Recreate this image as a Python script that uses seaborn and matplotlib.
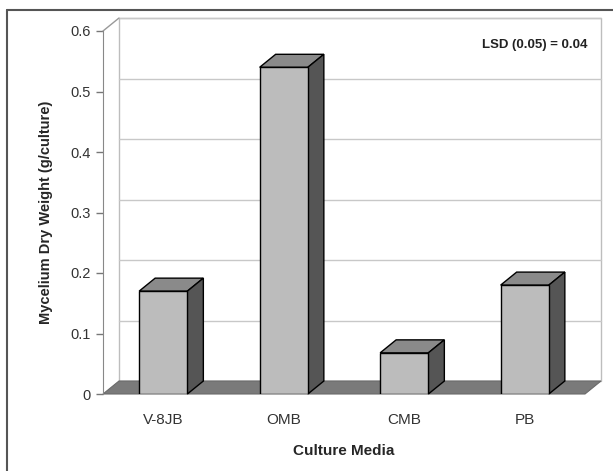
import matplotlib.pyplot as plt
import matplotlib.transforms as mtransforms
from matplotlib.patches import Polygon, Rectangle
from matplotlib.lines import Line2D
import seaborn as sns
import pandas as pd

media = ['V-8JB', 'OMB', 'CMB', 'PB']
dry_weight = [0.17, 0.54, 0.068, 0.18]
y_ticks = [0, 0.1, 0.2, 0.3, 0.4, 0.5, 0.6]
y_tick_labels = ['0', '0.1', '0.2', '0.3', '0.4', '0.5', '0.6']
lsd_text = 'LSD (0.05) = 0.04'

sns.set_style('white')
plt.rcParams['font.family'] = ['Liberation Sans', 'DejaVu Sans']

df = pd.DataFrame({'Media': media, 'Weight': dry_weight})

fig = plt.figure(figsize=(6.13, 4.71), dpi=100)
ax = fig.add_axes([103 / 613, 1 - 394 / 471, (585 - 103) / 613, (394 - 31) / 471])

# depth offset for the fake 3D look (16 px right, 13 px up)
depth = mtransforms.ScaledTranslation(0.16, 0.13, fig.dpi_scale_trans)
back_axes = ax.transAxes + depth
back_data = ax.transData + depth
pix = mtransforms.IdentityTransform()

ax.set_xlim(-0.5, 3.5)
ax.set_ylim(0, 0.6)

# back wall + gridlines
ax.add_patch(Rectangle((0, 0), 1, 1, transform=back_axes, facecolor='white',
                       edgecolor='#bdbdbd', lw=1, zorder=0, clip_on=False))
for t in y_ticks[1:]:
    ax.add_line(Line2D([-0.5, 3.5], [t, t], transform=back_data, color='#c8c8c8',
                       lw=1, zorder=0.5, clip_on=False))

# left side wall top edge
p0 = ax.transAxes.transform((0, 1))
p1 = back_axes.transform((0, 1))
ax.add_line(Line2D([p0[0], p1[0]], [p0[1], p1[1]], transform=pix, color='#999999',
                   lw=1, clip_on=False))

# floor
f0 = ax.transData.transform([(-0.5, 0), (3.5, 0)])
f1 = back_data.transform([(3.5, 0), (-0.5, 0)])
ax.add_patch(Polygon(list(f0) + list(f1), closed=True, transform=pix, facecolor='#7a7a7a',
                     edgecolor='#6a6a6a', lw=0.8, zorder=1, clip_on=False))

sns.barplot(data=df, x='Media', y='Weight', ax=ax, color='#bcbcbc', width=0.4,
            edgecolor='black', linewidth=1, saturation=1, zorder=3)

# side and top faces from the bar patches
bars = [p for p in ax.patches if p.get_zorder() == 3]
for bar in bars:
    x0 = bar.get_x()
    w = bar.get_width()
    h = bar.get_height()
    fx = ax.transData.transform([(x0, h), (x0 + w, h), (x0 + w, 0)])
    bx = back_data.transform([(x0, h), (x0 + w, h), (x0 + w, 0)])
    top = [fx[0], fx[1], bx[1], bx[0]]
    side = [fx[1], bx[1], bx[2], fx[2]]
    for pts, col in ((top, '#8a8a8a'), (side, '#555555')):
        ax.add_patch(Polygon(pts, closed=True, transform=pix, facecolor=col,
                             edgecolor='black', lw=1, zorder=2.5, clip_on=False))

ax.set_yticks(y_ticks)
ax.set_yticklabels(y_tick_labels, fontsize=10.5, color='#333333')
ax.tick_params(axis='y', length=5, width=1, color='#777777', left=True, pad=4)
ax.tick_params(axis='x', length=0, pad=14, labelsize=11, labelcolor='#333333')
for side in ('top', 'right', 'bottom'):
    ax.spines[side].set_visible(False)
ax.spines['left'].set_color('#888888')
ax.patch.set_alpha(0)

ax.set_xlabel('Culture Media', fontsize=11, fontweight='bold', labelpad=12)
ax.set_ylabel('Mycelium Dry Weight (g/culture)', fontsize=10.5, fontweight='bold', labelpad=12)

fig.text(588 / 613, 1 - 45 / 471, lsd_text, ha='right', va='center', fontsize=9.5,
         fontweight='bold', color='#222222')

# outer frame (left and top only are visible)
fig.add_artist(Line2D([7 / 613, 7 / 613], [0, 1 - 10 / 471], color='#555555', lw=1.5))
fig.add_artist(Line2D([7 / 613, 1], [1 - 10 / 471, 1 - 10 / 471], color='#555555', lw=1.5))

plt.savefig('out.png', dpi=100)
plt.close()
